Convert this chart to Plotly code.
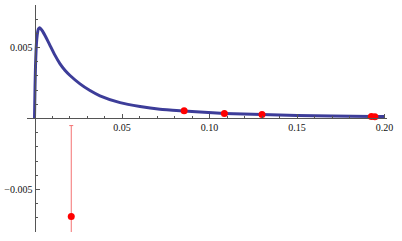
import plotly.graph_objects as go

# Curve values
curve_x = [0, 0.0003, 0.0006, 0.0009, 0.0013, 0.0018, 0.0022, 0.0027, 0.0035, 0.0045,
           0.006, 0.0075, 0.0089, 0.0115, 0.0146, 0.0175, 0.0203, 0.026, 0.0317, 0.0374,
           0.0489, 0.0603, 0.0717, 0.0854, 0.0946, 0.1085, 0.130, 0.150, 0.170, 0.1935, 0.2]
curve_y = [0, 0.0022, 0.0038, 0.0048, 0.0056, 0.0061, 0.0063, 0.00639, 0.00634, 0.00618,
           0.00585, 0.00549, 0.00514, 0.0045, 0.00385, 0.00338, 0.00303, 0.00244, 0.00197, 0.0016,
           0.00112, 0.00085, 0.00066, 0.00053, 0.00045, 0.00036, 0.00028, 0.00022, 0.000175, 0.000145, 0.00014]

# Red data points with error bars
pts_x = [0.021, 0.0855, 0.1085, 0.130, 0.1925, 0.1945]
pts_y = [-0.0069, 0.00054, 0.00035, 0.00028, 0.00014, 0.00013]
pts_err = [0.0064, 0.00005, 0.00005, 0.00005, 0.00005, 0.00005]

# Tick labels
x_tickvals = [0.05, 0.10, 0.15, 0.20]
x_ticktext = ["0.05", "0.10", "0.15", "0.20"]
x_minor = [0.01, 0.02, 0.03, 0.04, 0.06, 0.07, 0.08, 0.09, 0.11, 0.12, 0.13, 0.14,
           0.16, 0.17, 0.18, 0.19]
y_tickvals = [-0.005, 0.005]
y_ticktext = ["\u22120.005", "0.005"]
y_minor = [-0.008, -0.007, -0.006, -0.004, -0.003, -0.002, -0.001,
           0.001, 0.002, 0.003, 0.004, 0.006, 0.007, 0.008]

W, H = 402, 241
x_left_px, x_right_px, x0_px = 27, 386.5, 34.5
y_top_px, y_bot_px, y0_px = 5, 232, 118
px_per_x = 1750.0
y_lo, y_hi = -0.008, 0.008

fig = go.Figure()
fig.add_trace(go.Scatter(
    x=curve_x, y=curve_y, mode="lines",
    line=dict(color="#3d3d99", width=3, shape="spline", smoothing=0.6),
    hoverinfo="skip"))
fig.add_trace(go.Scatter(
    x=pts_x, y=pts_y, mode="markers",
    marker=dict(color="#ff0000", size=7),
    error_y=dict(type="data", array=pts_err, visible=True,
                 color="#f47272", thickness=1, width=2),
    hoverinfo="skip"))

axis_color = "#555555"
fig.update_layout(
    width=W, height=H,
    margin=dict(l=0, r=0, t=0, b=0, autoexpand=False),
    paper_bgcolor="white", plot_bgcolor="white",
    showlegend=False,
    font=dict(family="Liberation Serif, Times New Roman, serif", size=10, color="#111111"),
    xaxis=dict(
        domain=[x_left_px / W, x_right_px / W],
        range=[(x_left_px - x0_px) / px_per_x, (x_right_px - x0_px) / px_per_x],
        anchor="free", position=(H - y0_px) / H, automargin=False,
        showgrid=False, zeroline=False,
        showline=True, linecolor=axis_color, linewidth=1,
        tickmode="array", tickvals=x_tickvals, ticktext=x_ticktext,
        ticks="inside", ticklen=4, tickcolor=axis_color, tickwidth=1,
        minor=dict(tickvals=x_minor, ticks="inside", ticklen=2.5, tickcolor=axis_color),
    ),
    yaxis=dict(
        domain=[(H - y_bot_px) / H, (H - y_top_px) / H],
        range=[y_lo, y_hi],
        anchor="free", position=x0_px / W, automargin=False,
        showgrid=False, zeroline=False,
        showline=True, linecolor=axis_color, linewidth=1,
        tickmode="array", tickvals=y_tickvals, ticktext=y_ticktext,
        ticks="inside", ticklen=4, tickcolor=axis_color, tickwidth=1,
        minor=dict(tickvals=y_minor, ticks="inside", ticklen=2.5, tickcolor=axis_color),
    ),
)

fig.write_html("out.html",
               config={"displayModeBar": False, "staticPlot": True},
               post_script="document.body.style.margin='0px';document.body.style.overflow='hidden';")
